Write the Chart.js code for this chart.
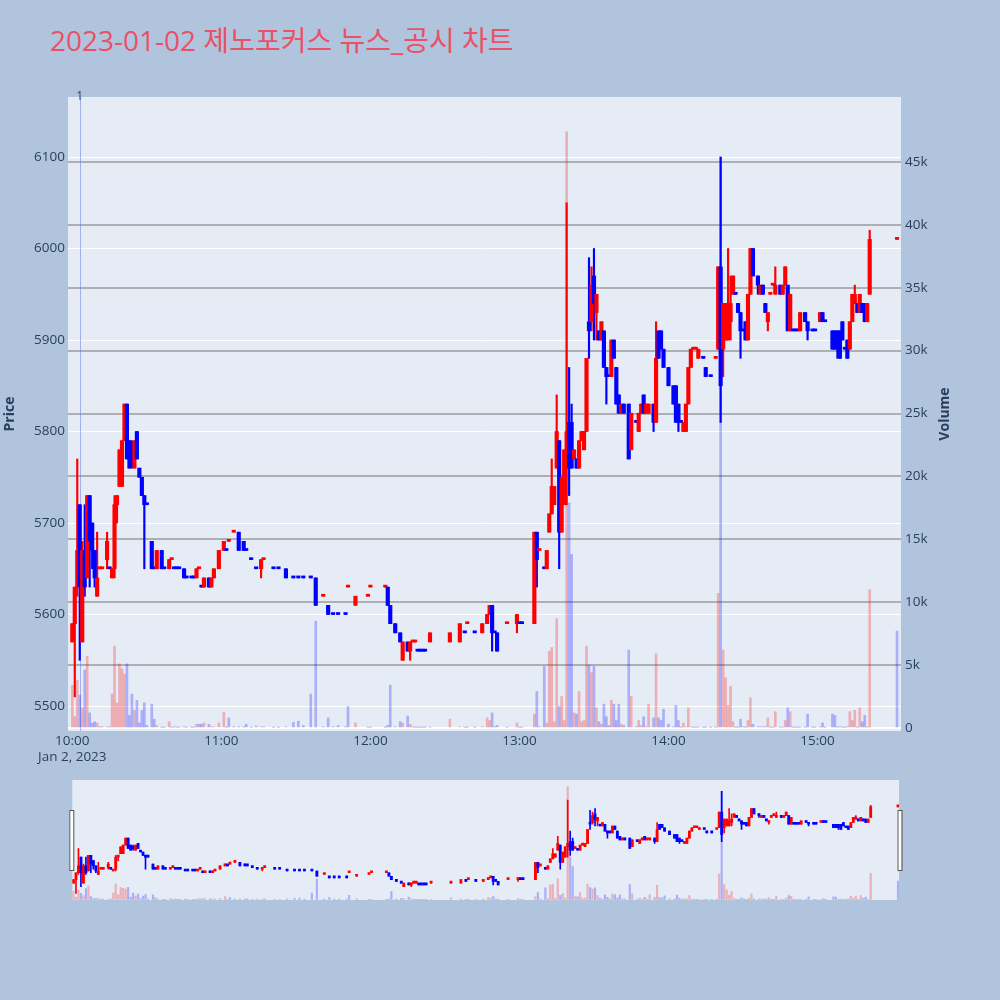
<!DOCTYPE html>
<html>
<head>
<meta charset="utf-8">
<script src="https://cdn.jsdelivr.net/npm/chart.js@4.4.0/dist/chart.umd.min.js"></script>
<style>
  body { margin: 0; width: 1000px; height: 1000px; background: #B0C4DE; position: relative; overflow: hidden; }
  #title { position: absolute; left: 50px; top: 21px; font-family: "Open Sans", "Noto Sans CJK KR", sans-serif;
           font-size: 28px; line-height: 38px; color: #EA5166; white-space: nowrap; }
  #main { position: absolute; left: 0; top: 0; }
  #mini { position: absolute; left: 0; top: 775px; }
</style>
</head>
<body>
<div id="title">2023-01-02 제노포커스 뉴스_공시 차트</div>
<canvas id="main" width="1000" height="770"></canvas>
<canvas id="mini" width="1000" height="130"></canvas>
<script>
// minutes after 10:00
const minutes = [
  0,1,2,3,4,5,6,7,8,9,
  10,11,12,14,15,16,17,18,19,20,
  21,22,23,24,25,26,27,28,29,30,
  32,33,34,36,37,39,40,41,42,43,
  45,46,48,49,50,51,52,53,55,56,
  57,59,61,62,63,65,67,69,70,72,
  74,76,77,81,83,86,89,91,93,96,
  98,101,103,105,107,110,111,114,119,120,
  126,127,128,130,132,133,135,136,137,138,
  139,140,141,142,144,152,156,158,159,162,
  165,167,168,169,170,171,175,179,180,181,
  186,187,188,190,191,192,193,194,195,196,
  197,198,199,200,201,202,203,204,205,206,
  207,208,209,210,211,212,213,214,215,216,
  217,218,219,220,221,222,224,225,227,228,
  229,230,231,232,234,235,236,237,238,240,
  242,243,244,245,246,247,248,249,250,251,
  252,254,255,257,259,260,261,262,263,264,
  265,266,267,268,269,270,271,272,273,274,
  276,277,278,279,280,281,282,283,285,286,
  287,288,289,290,291,292,293,295,296,298,
  299,301,302,303,306,307,308,309,310,311,
  312,313,314,315,316,317,318,319,320,321,
  332
];
const opens = [
  5570,5590,5630,5720,5570,5670,5640,5730,5700,5670,
  5620,5650,5650,5660,5650,5640,5650,5720,5740,5740,
  5790,5830,5790,5780,5760,5800,5760,5750,5730,5720,
  5680,5650,5650,5670,5650,5650,5660,5650,5650,5650,
  5650,5640,5640,5640,5640,5650,5630,5630,5640,5630,
  5640,5650,5670,5670,5680,5690,5690,5680,5670,5660,
  5650,5650,5660,5650,5650,5650,5640,5640,5640,5640,
  5640,5620,5610,5600,5600,5600,5630,5610,5620,5630,
  5630,5630,5610,5590,5580,5550,5570,5560,5570,5570,
  5560,5560,5560,5560,5570,5570,5570,5580,5590,5580,
  5580,5590,5600,5610,5580,5580,5590,5590,5590,5590,
  5590,5690,5670,5650,5650,5690,5710,5720,5760,5790,
  5690,5720,5780,5810,5810,5770,5770,5760,5790,5780,
  5800,5920,5920,5970,5930,5910,5900,5910,5870,5860,
  5860,5900,5870,5840,5820,5830,5830,5780,5810,5800,
  5820,5840,5820,5820,5830,5810,5910,5910,5890,5870,
  5850,5850,5830,5810,5800,5800,5830,5870,5890,5890,
  5880,5880,5870,5860,5880,5890,5980,5890,5900,5900,
  5920,5950,5950,5940,5930,5910,5920,5900,5950,6000,
  5970,5950,5960,5940,5920,5950,5960,5950,5960,5950,
  5960,5960,5910,5910,5910,5910,5910,5930,5920,5910,
  5910,5920,5930,5920,5910,5910,5910,5910,5920,5890,
  5900,5890,5920,5940,5940,5930,5940,5940,5920,5950,
  6010
];
const highs = [
  5590,5630,5770,5720,5680,5720,5730,5730,5700,5670,
  5690,5650,5650,5690,5650,5650,5730,5730,5780,5790,
  5830,5830,5790,5790,5790,5800,5760,5750,5730,5720,
  5680,5650,5670,5670,5650,5660,5660,5650,5650,5650,
  5650,5640,5640,5640,5650,5650,5630,5640,5640,5640,
  5650,5670,5680,5670,5680,5690,5690,5680,5670,5660,
  5650,5660,5660,5650,5650,5650,5640,5640,5640,5640,
  5640,5620,5610,5600,5600,5600,5630,5620,5620,5630,
  5630,5630,5610,5590,5580,5570,5570,5570,5570,5570,
  5560,5560,5560,5560,5580,5580,5590,5580,5590,5580,
  5590,5600,5610,5610,5580,5580,5590,5600,5590,5590,
  5690,5690,5670,5650,5670,5710,5770,5740,5840,5790,
  5750,5780,6050,5870,5830,5780,5770,5790,5800,5800,
  5880,5990,5980,6000,5950,5910,5920,5910,5870,5860,
  5900,5900,5870,5840,5830,5830,5830,5820,5810,5820,
  5830,5840,5830,5830,5830,5920,5910,5910,5890,5870,
  5850,5850,5830,5810,5810,5830,5870,5890,5890,5890,
  5890,5880,5870,5860,5880,5980,6100,5940,5940,6000,
  5970,5970,5950,5940,5930,5910,5920,5950,6000,6000,
  5970,5960,5960,5940,5930,5950,5960,5980,5960,5960,
  5980,5960,5950,5910,5910,5910,5930,5930,5920,5910,
  5910,5930,5930,5920,5910,5910,5910,5910,5920,5890,
  5900,5920,5950,5960,5940,5950,5940,5940,5940,6020,
  6010
];
const lows = [
  5570,5510,5620,5550,5570,5620,5640,5630,5650,5630,
  5620,5650,5650,5650,5650,5640,5640,5700,5740,5740,
  5790,5770,5760,5760,5760,5770,5750,5730,5650,5720,
  5650,5650,5650,5650,5650,5650,5660,5650,5650,5650,
  5640,5640,5640,5640,5640,5650,5630,5630,5630,5630,
  5640,5650,5670,5670,5680,5690,5670,5670,5670,5660,
  5650,5640,5660,5650,5650,5640,5640,5640,5640,5640,
  5610,5620,5600,5600,5600,5600,5630,5610,5620,5630,
  5630,5610,5590,5580,5570,5550,5560,5550,5570,5570,
  5560,5560,5560,5560,5570,5570,5570,5580,5590,5580,
  5580,5590,5600,5560,5580,5560,5590,5580,5590,5590,
  5590,5630,5670,5650,5650,5690,5710,5720,5760,5650,
  5690,5720,5720,5730,5760,5770,5760,5760,5790,5780,
  5800,5880,5910,5900,5900,5900,5900,5870,5830,5860,
  5860,5880,5830,5820,5820,5820,5770,5780,5810,5800,
  5820,5820,5820,5820,5800,5810,5880,5890,5870,5850,
  5830,5810,5800,5810,5800,5800,5830,5870,5890,5890,
  5880,5880,5860,5860,5880,5890,5810,5860,5900,5900,
  5900,5950,5950,5930,5880,5910,5900,5900,5950,5970,
  5950,5950,5950,5930,5910,5950,5960,5950,5950,5950,
  5960,5910,5910,5910,5910,5910,5910,5920,5900,5910,
  5910,5920,5920,5920,5890,5890,5880,5880,5900,5890,
  5880,5890,5920,5940,5930,5930,5930,5920,5920,5950,
  6010
];
const closes = [
  5590,5630,5670,5630,5670,5630,5730,5680,5670,5640,
  5640,5650,5650,5680,5650,5650,5720,5730,5780,5790,
  5830,5770,5760,5770,5790,5770,5750,5730,5720,5720,
  5650,5650,5670,5650,5650,5660,5660,5650,5650,5650,
  5640,5640,5640,5640,5650,5650,5630,5640,5630,5640,
  5650,5670,5680,5670,5680,5690,5670,5670,5670,5660,
  5650,5660,5660,5650,5650,5640,5640,5640,5640,5640,
  5610,5620,5600,5600,5600,5600,5630,5620,5620,5630,
  5630,5610,5590,5580,5570,5570,5560,5570,5570,5570,
  5560,5560,5560,5560,5580,5580,5590,5580,5590,5580,
  5590,5600,5610,5580,5580,5560,5590,5600,5590,5590,
  5690,5660,5670,5650,5670,5710,5740,5740,5800,5690,
  5750,5780,5800,5760,5760,5780,5760,5790,5800,5800,
  5880,5910,5960,5940,5950,5900,5920,5870,5860,5860,
  5900,5880,5830,5820,5830,5820,5770,5820,5810,5820,
  5830,5820,5830,5830,5810,5880,5880,5890,5870,5850,
  5830,5810,5810,5810,5810,5830,5870,5890,5890,5890,
  5890,5880,5860,5860,5880,5980,5850,5940,5940,5930,
  5940,5970,5950,5930,5910,5910,5900,5950,6000,5970,
  5960,5960,5950,5930,5930,5950,5960,5960,5950,5960,
  5980,5910,5950,5910,5910,5910,5930,5920,5910,5910,
  5910,5930,5920,5920,5890,5890,5890,5880,5900,5890,
  5880,5920,5950,5950,5930,5950,5930,5920,5940,6010,
  6010
];
const volumes = [
  3400,900,3800,2600,1600,4600,5700,1200,400,500,
  400,100,100,100,100,2700,6500,2000,5100,4700,
  4300,5100,1000,2700,1400,2200,400,1400,2000,200,
  1900,700,200,50,50,500,50,100,50,50,
  100,50,50,50,300,300,300,400,300,100,
  100,400,1250,50,800,100,100,100,300,50,
  150,100,100,50,50,100,450,550,200,2700,
  8500,100,800,100,200,100,1700,400,50,50,
  50,200,3400,100,500,400,950,300,100,50,
  50,50,50,50,50,700,100,50,50,50,
  100,800,600,1200,100,200,50,400,50,50,
  1100,2900,100,4900,400,6100,6400,500,8700,1700,
  2500,600,47400,17900,13800,1200,1100,2900,500,600,
  6500,5000,4400,4900,1600,500,300,1900,900,200,
  2200,1900,600,1900,300,200,6200,2500,100,600,
  200,900,100,1900,800,5900,800,600,1500,300,
  100,1800,600,50,400,100,1600,100,50,50,
  50,50,50,50,50,10700,45400,6200,4000,1800,
  3300,500,50,50,700,100,50,600,2400,300,
  100,100,100,100,800,50,50,1300,50,50,
  600,1600,1300,50,50,50,50,50,1100,50,
  50,50,400,50,1100,1000,50,100,50,50,
  100,1300,600,1400,50,1600,500,1000,50,11000,
  7700
];

const tickMinutes = [0, 60, 120, 180, 240, 300];
const tickLabels = ['10:00', '11:00', '12:00', '13:00', '14:00', '15:00'];
const dateLabel = 'Jan 2, 2023';
const priceTicks = [5500, 5600, 5700, 5800, 5900, 6000, 6100];
const volumeTicks = [0, 5000, 10000, 15000, 20000, 25000, 30000, 35000, 40000, 45000];
const newsMinutes = [3];
const newsLabels = ['1'];

const UP = '#FF0000', DOWN = '#0000FF';
const UP_VOL = 'rgba(255,0,0,0.26)', DOWN_VOL = 'rgba(0,0,255,0.26)';
const TXT = '#2a3f5f';
const FONT = '"Open Sans", sans-serif';

// candle direction like plotly: flat candles follow the previous close
const candleColors = [];
let prevClose = null, prevUp = true;
minutes.forEach((m, i) => {
  let up;
  if (closes[i] > opens[i]) up = true;
  else if (closes[i] < opens[i]) up = false;
  else if (prevClose !== null && closes[i] !== prevClose) up = closes[i] > prevClose;
  else up = prevUp;
  candleColors.push(up ? UP : DOWN);
  prevUp = up; prevClose = closes[i];
});
const volColors = minutes.map((m, i) => closes[i] > opens[i] ? UP_VOL : DOWN_VOL);

function makeDatasets(bodyW, wickW, volW) {
  return [
    { label: 'Volume', yAxisID: 'y2', order: 3, grouped: false, barThickness: volW,
      backgroundColor: volColors,
      data: minutes.map((m, i) => ({ x: m, y: volumes[i] })) },
    { label: 'wick', yAxisID: 'y', order: 2, grouped: false, barThickness: wickW,
      backgroundColor: candleColors,
      data: minutes.map((m, i) => ({ x: m, y: [lows[i], highs[i]] })) },
    { label: 'body', yAxisID: 'y', order: 1, grouped: false, barThickness: bodyW, minBarLength: 2,
      backgroundColor: candleColors,
      data: minutes.map((m, i) => ({ x: m, y: [opens[i], closes[i]] })) }
  ];
}

const mainDecor = {
  id: 'mainDecor',
  beforeDraw(chart) {
    const { ctx, chartArea: a } = chart;
    ctx.save();
    ctx.fillStyle = '#E5ECF6';
    ctx.fillRect(a.left, a.top, a.right - a.left, a.bottom - a.top);
    ctx.restore();
  },
  beforeDatasetsDraw(chart) {
    const { ctx, chartArea: a, scales } = chart;
    ctx.save();
    ctx.strokeStyle = 'rgba(100,115,230,0.5)';
    ctx.lineWidth = 1;
    newsMinutes.forEach(m => {
      const x = Math.round(scales.x.getPixelForValue(m)) + 0.5;
      ctx.beginPath(); ctx.moveTo(x, a.top); ctx.lineTo(x, a.bottom); ctx.stroke();
    });
    ctx.restore();
  },
  afterDraw(chart) {
    const { ctx, chartArea: a, scales } = chart;
    ctx.save();
    ctx.fillStyle = TXT;
    ctx.textAlign = 'center';
    ctx.textBaseline = 'middle';
    ctx.font = '12px ' + FONT;
    newsMinutes.forEach((m, i) => ctx.fillText(newsLabels[i], scales.x.getPixelForValue(m), a.top));
    ctx.font = 'bold 14px ' + FONT;
    const mid = (a.top + a.bottom) / 2;
    [['Price', 10], ['Volume', 945]].forEach(([t, x]) => {
      ctx.save();
      ctx.translate(x, mid);
      ctx.rotate(-Math.PI / 2);
      ctx.fillText(t, 0, 0);
      ctx.restore();
    });
    ctx.restore();
  }
};

const tickFont = { family: FONT, size: 13.5 };

new Chart(document.getElementById('main'), {
  type: 'bar',
  data: { datasets: makeDatasets(3.5, 1.5, 2) },
  plugins: [mainDecor],
  options: {
    responsive: false,
    animation: false,
    layout: { padding: { top: 97, left: 0, right: 40, bottom: 0 } },
    plugins: { legend: { display: false }, tooltip: { enabled: false } },
    scales: {
      x: {
        type: 'linear', min: -1.73, max: 333.6, offset: false,
        grid: { display: false, drawTicks: false }, border: { display: false },
        afterBuildTicks: s => { s.ticks = tickMinutes.map(v => ({ value: v })); },
        afterFit: s => { s.height = 39; },
        ticks: { padding: 2, color: TXT, font: tickFont, maxRotation: 0, autoSkip: false,
                 callback: (v, i) => i === 0 ? [tickLabels[0], dateLabel] : tickLabels[i] }
      },
      y: {
        position: 'left', min: 5472.7, max: 6165.6,
        grid: { color: '#FFFFFF', lineWidth: 1, drawTicks: false }, border: { display: false },
        afterBuildTicks: s => { s.ticks = priceTicks.map(v => ({ value: v })); },
        afterFit: s => { s.width = 68; },
        ticks: { padding: 3, color: TXT, font: tickFont, callback: v => String(v) }
      },
      y2: {
        position: 'right', min: -238, max: 50160,
        grid: { color: c => (c.tick && c.tick.value === 0) ? '#FFFFFF' : '#AFAFB3', lineWidth: 2, drawTicks: false },
        border: { display: false },
        afterBuildTicks: s => { s.ticks = volumeTicks.map(v => ({ value: v })); },
        afterFit: s => { s.width = 59; },
        ticks: { padding: 4, color: TXT, font: tickFont, callback: v => v === 0 ? '0' : (v / 1000) + 'k' }
      }
    }
  }
});

const miniDecor = {
  id: 'miniDecor',
  beforeDraw(chart) {
    const { ctx, chartArea: a } = chart;
    ctx.save();
    ctx.fillStyle = '#E5ECF6';
    ctx.fillRect(a.left, a.top, a.right - a.left, a.bottom - a.top);
    ctx.restore();
  },
  afterDraw(chart) {
    const { ctx, chartArea: a } = chart;
    ctx.save();
    ctx.fillStyle = '#FFFFFF';
    ctx.strokeStyle = '#555555';
    ctx.lineWidth = 1;
    [a.left - 3, a.right - 1.5].forEach(x => {
      ctx.fillRect(x, a.top + 30, 4, 60);
      ctx.strokeRect(x + 0.5, a.top + 30.5, 4, 60);
    });
    ctx.restore();
  }
};

new Chart(document.getElementById('mini'), {
  type: 'bar',
  data: { datasets: makeDatasets(2.2, 1, 1.5) },
  plugins: [miniDecor],
  options: {
    responsive: false,
    animation: false,
    layout: { padding: { top: 5, left: 72.3, right: 101, bottom: 5 } },
    plugins: { legend: { display: false }, tooltip: { enabled: false } },
    scales: {
      x: { type: 'linear', min: -0.48, max: 332.4, offset: false, display: false },
      y: { min: 5472.7, max: 6165.6, display: false },
      y2: { position: 'right', min: -238, max: 50160, display: false }
    }
  }
});
</script>
</body>
</html>
